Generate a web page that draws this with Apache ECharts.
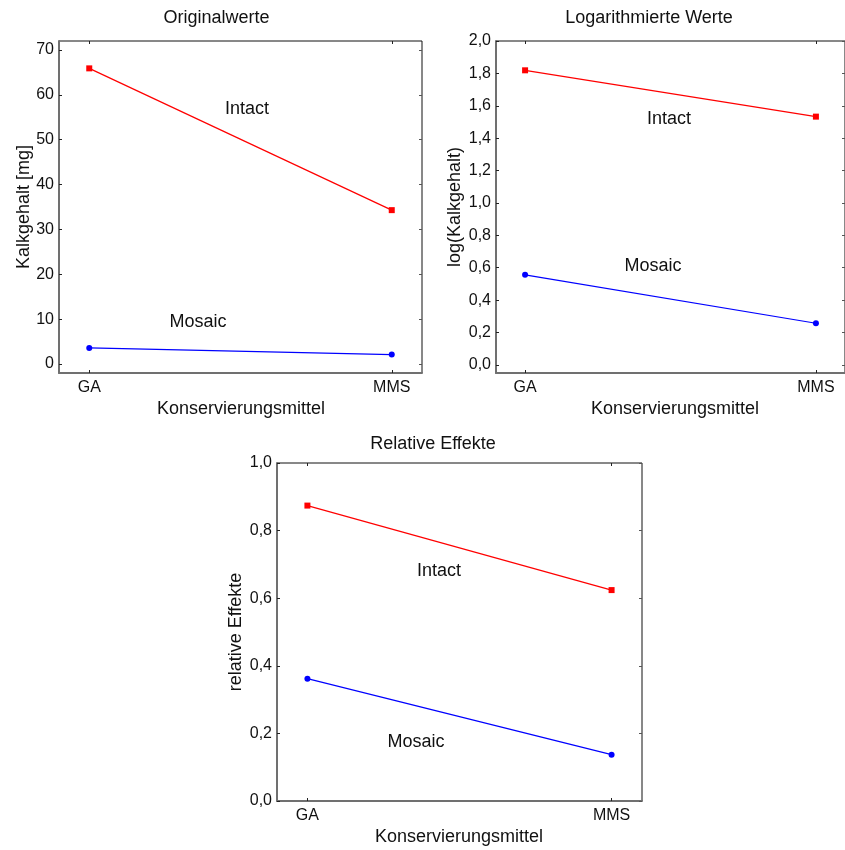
<!DOCTYPE html>
<html>
<head>
<meta charset="utf-8">
<script src="https://cdn.jsdelivr.net/npm/echarts@6/dist/echarts.min.js"></script>
<style>
html,body{margin:0;padding:0;background:#fff;}
#chart{width:845px;height:850px;}
</style>
</head>
<body>
<div id="chart"></div>
<script>
// ---- data ----
const categories = ['GA', 'MMS'];
const origIntact = [65.9, 34.3];
const origMosaic = [3.6, 2.1];
const logIntact = [1.819, 1.533];
const logMosaic = [0.556, 0.257];
const relIntact = [0.874, 0.624];
const relMosaic = [0.362, 0.137];
const yTicksOrig = [0, 10, 20, 30, 40, 50, 60, 70];
const yTicksLog = [0, 0.2, 0.4, 0.6, 0.8, 1.0, 1.2, 1.4, 1.6, 1.8, 2.0];
const yTicksRel = [0, 0.2, 0.4, 0.6, 0.8, 1.0];
const titles = ['Originalwerte', 'Logarithmierte Werte', 'Relative Effekte'];
const yNames = ['Kalkgehalt [mg]', 'log(Kalkgehalt)', 'relative Effekte'];
const xName = 'Konservierungsmittel';
const groupNames = ['Intact', 'Mosaic'];

// ---- layout ----
const FONT = '"Liberation Sans", Arial, sans-serif';
const grids = [
  {left: 59, top: 41, width: 363, height: 332},
  {left: 496, top: 41, width: 359, height: 332},
  {left: 277, top: 463, width: 365, height: 338}
];
const yRanges = [[-2, 72], [-0.05, 2.0], [0, 1.0]];
const yTickSets = [yTicksOrig, yTicksLog, yTicksRel];
const yFmt = [
  v => String(Math.round(v)),
  v => v.toFixed(1).replace('.', ','),
  v => v.toFixed(1).replace('.', ',')
];
const xIdx = categories.map((c, i) => i);
const xTickVals = xIdx;

const chart = echarts.init(document.getElementById('chart'), null, {renderer: 'canvas'});

const xAxes = [], yAxes = [], series = [];
grids.forEach((g, i) => {
  xAxes.push({
    type: 'value', gridIndex: i, min: -0.1, max: 1.1, position: 'bottom',
    splitLine: {show: false},
    axisLine: {show: true, onZero: false, lineStyle: {color: '#707070', width: 2}},
    axisTick: {show: true, inside: true, length: 3, customValues: xTickVals, lineStyle: {color: '#222'}},
    axisLabel: {show: true, customValues: xTickVals, margin: 7, fontSize: 16, fontFamily: FONT, color: '#111',
      formatter: v => categories[Math.round(v)]}
  });
  yAxes.push({
    type: 'value', gridIndex: i, min: yRanges[i][0], max: yRanges[i][1], position: 'left',
    splitLine: {show: false},
    axisLine: {show: true, onZero: false, lineStyle: {color: '#707070', width: 2}},
    axisTick: {show: true, inside: true, length: 3, customValues: yTickSets[i], lineStyle: {color: '#222'}},
    axisLabel: {show: true, customValues: yTickSets[i], margin: 5, fontSize: 16, fontFamily: FONT, color: '#111',
      formatter: yFmt[i]}
  });
});
grids.forEach((g, i) => {
  xAxes.push({
    type: 'value', gridIndex: i, min: -0.1, max: 1.1, position: 'top',
    splitLine: {show: false},
    axisLine: {show: false, onZero: false},
    axisTick: {show: true, inside: true, length: 3, customValues: xTickVals, lineStyle: {color: '#222'}},
    axisLabel: {show: false}
  });
  yAxes.push({
    type: 'value', gridIndex: i, min: yRanges[i][0], max: yRanges[i][1], position: 'right',
    splitLine: {show: false},
    axisLine: {show: false, onZero: false},
    axisTick: {show: true, inside: true, length: 3, customValues: yTickSets[i], lineStyle: {color: '#555'}},
    axisLabel: {show: false}
  });
});

const dataSets = [[origIntact, origMosaic], [logIntact, logMosaic], [relIntact, relMosaic]];
dataSets.forEach((pair, i) => {
  series.push({
    name: groupNames[0], type: 'line', xAxisIndex: i, yAxisIndex: i,
    data: pair[0].map((v, k) => [xIdx[k], v]),
    symbol: 'rect', symbolSize: 6, showSymbol: true,
    lineStyle: {color: '#ff0000', width: 1.2}, itemStyle: {color: '#ff0000'},
    animation: false, silent: true
  });
  series.push({
    name: groupNames[1], type: 'line', xAxisIndex: i, yAxisIndex: i,
    data: pair[1].map((v, k) => [xIdx[k], v]),
    symbol: 'circle', symbolSize: 6, showSymbol: true,
    lineStyle: {color: '#0000ff', width: 1.2}, itemStyle: {color: '#0000ff'},
    animation: false, silent: true
  });
});

function txt(text, x, y, size, rot) {
  return {
    type: 'text', x: x, y: y, rotation: rot || 0, silent: true,
    style: {text: text, fontSize: size, fontFamily: FONT, fill: '#111', align: 'center', verticalAlign: 'middle'}
  };
}
const graphics = [
  txt(titles[0], 216.5, 18, 18),
  txt(titles[1], 649, 18, 18),
  txt(titles[2], 433, 444, 18),
  txt(yNames[0], 24, 207, 18, Math.PI / 2),
  txt(yNames[1], 455, 207, 18, Math.PI / 2),
  txt(yNames[2], 236, 632, 18, Math.PI / 2),
  txt(xName, 241, 409, 18),
  txt(xName, 675, 409, 18),
  txt(xName, 459, 837, 18),
  txt(groupNames[0], 247, 109, 18),
  txt(groupNames[1], 198, 322, 18),
  txt(groupNames[0], 669, 119, 18),
  txt(groupNames[1], 653, 266, 18),
  txt(groupNames[0], 439, 571, 18),
  txt(groupNames[1], 416, 742, 18)
];

chart.setOption({
  backgroundColor: '#ffffff',
  animation: false,
  grid: grids.map(g => Object.assign({show: true, borderColor: '#111', borderWidth: 1, backgroundColor: 'transparent', containLabel: false}, g)),
  xAxis: xAxes,
  yAxis: yAxes,
  series: series,
  graphic: graphics
});
</script>
</body>
</html>
